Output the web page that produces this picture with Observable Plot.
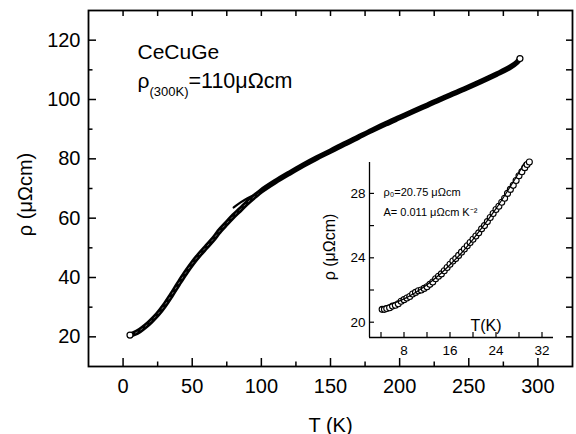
<!DOCTYPE html>
<html><head><meta charset="utf-8">
<script src="https://cdn.jsdelivr.net/npm/d3@7"></script>
<script src="https://cdn.jsdelivr.net/npm/@observablehq/plot@0.6"></script>
<style>
html,body{margin:0;padding:0;background:#fff;}
#wrap{position:relative;width:576px;height:434px;}
#wrap svg{position:absolute;left:0;top:0;overflow:visible;}
</style></head><body><div id="wrap"></div>
<script>
// Main curve: temperature (K) and resistivity (µΩcm)
const T   = [5, 8, 12, 16, 20, 25, 30, 35, 40, 45, 50, 55, 60, 65, 68, 70, 75, 80, 85, 90, 95, 100, 110, 120, 130, 140, 150, 160, 170, 180, 190, 200, 210, 220, 230, 240, 250, 260, 270, 280, 285, 287];
const rho = [20.6, 21.1, 22.1, 23.5, 25.2, 27.6, 30.6, 34.1, 37.8, 41.4, 44.7, 47.6, 50.2, 52.8, 54.6, 55.8, 58.3, 60.8, 63.0, 65.3, 67.3, 69.2, 72.3, 75.1, 77.8, 80.3, 82.6, 85.0, 87.3, 89.6, 91.8, 93.9, 96.0, 98.1, 100.2, 102.2, 104.2, 106.3, 108.5, 110.9, 112.6, 113.8];
// Fit line over the high-T part
const fitT   = [80, 85, 90, 95, 100, 110, 120, 140, 160, 180, 200, 220, 240, 260, 280, 287];
const fitRho = [63.6, 65.3, 66.7, 67.9, 69.3, 72.3, 75.1, 80.3, 85.0, 89.6, 93.9, 98.1, 102.2, 106.3, 110.9, 113.6];
// Inset: low-T data and fit
const inT   = [4.2, 4.6, 5, 5.5, 6, 6.5, 7, 7.5, 8, 8.5, 9, 9.5, 10, 10.5, 11, 11.5, 12, 12.5, 13, 13.5, 14, 14.5, 15, 15.5, 16, 16.5, 17, 17.5, 18, 18.5, 19, 19.5, 20, 20.5, 21, 21.5, 22, 22.5, 23, 23.5, 24, 24.5, 25, 25.5, 26, 26.5, 27, 27.5, 28, 28.5, 29, 29.4, 29.8];
const inRho = [20.8, 20.8, 20.85, 20.9, 21.0, 21.05, 21.15, 21.3, 21.4, 21.5, 21.6, 21.75, 21.85, 21.95, 22.0, 22.1, 22.2, 22.35, 22.5, 22.7, 22.85, 23.0, 23.2, 23.4, 23.6, 23.8, 23.95, 24.15, 24.35, 24.55, 24.75, 24.95, 25.15, 25.35, 25.55, 25.8, 26.0, 26.25, 26.5, 26.75, 27.0, 27.2, 27.45, 27.7, 28.0, 28.25, 28.5, 28.8, 29.1, 29.35, 29.6, 29.8, 29.95];
const inFitT   = [4, 6, 8, 10, 12, 14, 16, 18, 20, 22, 24, 26, 28, 30];
const inFitRho = [20.93, 21.15, 21.45, 21.85, 22.33, 22.9, 23.57, 24.3, 25.15, 26.07, 27.05, 28.15, 29.3, 30.6];
// Ticks
const xTicks = [0, 50, 100, 150, 200, 250, 300];
const xMinor = [25, 75, 125, 175, 225, 275];
const yTicks = [20, 40, 60, 80, 100, 120];
const yMinor = [30, 50, 70, 90, 110];
const xDomain = [-25, 325], yDomain = [10, 130];
const inXTicks = [8, 16, 24, 32], inXMinor = [4, 12, 20, 28];
const inYTicks = [20, 24, 28], inYMinor = [22, 26];
const inXDomain = [2, 34], inYDomain = [19.05, 29.92];

const W = 576, H = 434;
const font = "'Liberation Sans', Arial, Helvetica, sans-serif";
const M = {l: 88, r: 4, t: 10, b: 68};
const fw = W - M.l - M.r, fh = H - M.t - M.b;
const main = T.map((t, i) => ({t, r: rho[i]}));
const fit = fitT.map((t, i) => ({t, r: fitRho[i]}));

const mainPlot = Plot.plot({
  width: W, height: H,
  marginLeft: M.l, marginRight: M.r, marginTop: M.t, marginBottom: M.b,
  style: {fontFamily: font, background: "transparent", color: "black", overflow: "visible"},
  x: {domain: xDomain, label: null},
  y: {domain: yDomain, label: null},
  marks: [
    Plot.frame({stroke: "black", strokeWidth: 1.8}),
    Plot.axisX(xTicks, {anchor: "bottom", tickSize: 0, tickPadding: 12, fontSize: 20, label: null}),
    Plot.axisY(yTicks, {anchor: "left", tickSize: 0, tickPadding: 8, fontSize: 20, label: null}),
    Plot.tickX(xTicks, {x: d => d, insetTop: fh - 8, stroke: "black", strokeWidth: 1.5}),
    Plot.tickX(xMinor, {x: d => d, insetTop: fh - 4.5, stroke: "black", strokeWidth: 1.5}),
    Plot.tickX(xTicks.concat(xMinor), {x: d => d, insetBottom: fh - 6, stroke: "black", strokeWidth: 1.5}),
    Plot.tickY(yTicks, {y: d => d, insetRight: fw - 8, stroke: "black", strokeWidth: 1.5}),
    Plot.tickY(yMinor, {y: d => d, insetRight: fw - 4.5, stroke: "black", strokeWidth: 1.5}),
    Plot.tickY(yTicks.concat(yMinor), {y: d => d, insetLeft: fw - 6, stroke: "black", strokeWidth: 1.5}),
    Plot.line(main, {x: "t", y: "r", stroke: "black", strokeWidth: 5.5, curve: "catmull-rom"}),
    Plot.line(main, {x: "t", y: "r", stroke: "#808080", strokeWidth: 0.8, strokeDasharray: "2,4", curve: "catmull-rom"}),
    Plot.line(fit, {x: "t", y: "r", stroke: "black", strokeWidth: 2.2, curve: "catmull-rom"}),
    Plot.dot([main[0], main[main.length - 1]], {x: "t", y: "r", r: 3, stroke: "black", strokeWidth: 1.2, fill: "#fff"}),
    Plot.text(["T (K)"], {text: d => d, frameAnchor: "bottom", dy: 65, fontSize: 20}),
    Plot.text(["ρ (μΩcm)"], {text: d => d, frameAnchor: "left", dx: -63, dy: 6, rotate: -90, textAnchor: "middle", lineAnchor: "middle", fontSize: 20}),
    Plot.text(["CeCuGe"], {text: d => d, frameAnchor: "top-left", dx: 49, dy: 48, lineAnchor: "bottom", textAnchor: "start", fontSize: 21}),
    Plot.text(["ρ"], {text: d => d, frameAnchor: "top-left", dx: 49, dy: 77, lineAnchor: "bottom", textAnchor: "start", fontSize: 21}),
    Plot.text(["(300K)"], {text: d => d, frameAnchor: "top-left", dx: 61, dy: 85, lineAnchor: "bottom", textAnchor: "start", fontSize: 13}),
    Plot.text(["=110μΩcm"], {text: d => d, frameAnchor: "top-left", dx: 100, dy: 77, lineAnchor: "bottom", textAnchor: "start", fontSize: 21.5})
  ]
});

const IM = {l: 369, r: 23, t: 162, b: 97};
const ifw = W - IM.l - IM.r, ifh = H - IM.t - IM.b;
const inData = inT.map((t, i) => ({t, r: inRho[i]}));
const inFit = inFitT.map((t, i) => ({t, r: inFitRho[i]}));

const insetPlot = Plot.plot({
  width: W, height: H,
  marginLeft: IM.l, marginRight: IM.r, marginTop: IM.t, marginBottom: IM.b,
  style: {fontFamily: font, background: "transparent", color: "black", overflow: "visible"},
  x: {domain: inXDomain, label: null},
  y: {domain: inYDomain, label: null},
  marks: [
    Plot.ruleX([inXDomain[0]], {stroke: "black", strokeWidth: 1.3}),
    Plot.ruleY([inYDomain[0]], {stroke: "black", strokeWidth: 1.3}),
    Plot.axisX(inXTicks, {anchor: "bottom", tickSize: 0, tickPadding: 8, fontSize: 13.5, label: null}),
    Plot.axisY(inYTicks, {anchor: "left", tickSize: 0, tickPadding: 4, fontSize: 13.5, label: null}),
    Plot.tickX(inXTicks.concat(inXMinor), {x: d => d, insetTop: ifh - 5, stroke: "black", strokeWidth: 1.2}),
    Plot.tickY(inYTicks.concat(inYMinor), {y: d => d, insetRight: ifw - 5, stroke: "black", strokeWidth: 1.2}),
    Plot.dot(inData, {x: "t", y: "r", r: 3, stroke: "black", strokeWidth: 1.1, fill: "#fff"}),
    Plot.line(inFit, {x: "t", y: "r", stroke: "black", strokeWidth: 1.2, curve: "catmull-rom", clip: true}),
    Plot.text(["T(K)"], {text: d => d, frameAnchor: "bottom-left", dx: 101, dy: -7, lineAnchor: "bottom", textAnchor: "start", fontSize: 16}),
    Plot.text(["ρ (μΩcm)"], {text: d => d, frameAnchor: "left", dx: -40, dy: -3, rotate: -90, textAnchor: "middle", lineAnchor: "middle", fontSize: 16}),
    Plot.text(["ρ₀=20.75 μΩcm"], {text: d => d, frameAnchor: "top-left", dx: 14, dy: 33, lineAnchor: "bottom", textAnchor: "start", fontSize: 11}),
    Plot.text(["A= 0.011 μΩcm K⁻²"], {text: d => d, frameAnchor: "top-left", dx: 14, dy: 53, lineAnchor: "bottom", textAnchor: "start", fontSize: 11})
  ]
});

const wrap = document.getElementById("wrap");
wrap.appendChild(mainPlot);
wrap.appendChild(insetPlot);
</script>
</body></html>
